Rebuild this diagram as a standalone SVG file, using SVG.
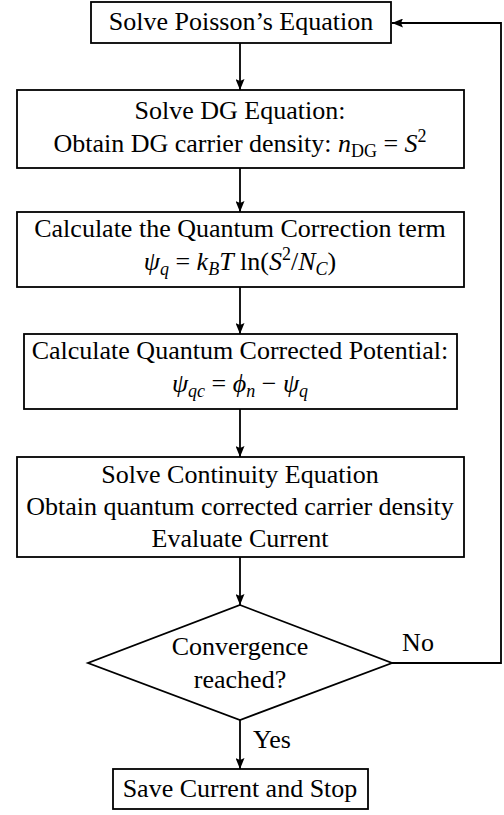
<svg xmlns="http://www.w3.org/2000/svg" width="504" height="815" viewBox="0 0 504 815">
<style>
text{font-family:"Liberation Serif","Times New Roman",serif;font-size:26px;fill:#000;text-anchor:middle}
.it{font-style:italic}
.sub{font-size:18px}
.box{fill:#fff;stroke:#000;stroke-width:1.8}
.ln{fill:none;stroke:#000;stroke-width:1.8}
</style>
<defs>
<marker id="ah" markerWidth="11" markerHeight="9" refX="11" refY="4.5" orient="auto" markerUnits="userSpaceOnUse">
<path d="M0,0 L11,4.5 L0,9 L2,4.5 Z" fill="#000"/>
</marker>
</defs>
<g id="connectors">
<line class="ln" x1="240" y1="43" x2="240" y2="90" marker-end="url(#ah)"/>
<line class="ln" x1="240" y1="168" x2="240" y2="212" marker-end="url(#ah)"/>
<line class="ln" x1="240" y1="287" x2="240" y2="334" marker-end="url(#ah)"/>
<line class="ln" x1="240" y1="409" x2="240" y2="457" marker-end="url(#ah)"/>
<line class="ln" x1="240" y1="557" x2="240" y2="605" marker-end="url(#ah)"/>
<line class="ln" x1="240" y1="720" x2="240" y2="769" marker-end="url(#ah)"/>
<polyline class="ln" points="392,663 501,663 501,23 392,23" marker-end="url(#ah)"/>
<text x="418" y="651">No</text>
<text x="272" y="748">Yes</text>
</g>
<g id="poisson">
<rect class="box" x="91" y="2" width="300" height="41"/>
<text x="241" y="30">Solve Poisson’s Equation</text>
</g>
<g id="dg">
<rect class="box" x="17" y="90" width="447" height="78"/>
<text x="240" y="119">Solve DG Equation:</text>
<text x="240" y="152">Obtain DG carrier density: <tspan class="it">n</tspan><tspan class="sub" dy="5">DG</tspan><tspan dy="-5"> = </tspan><tspan class="it">S</tspan><tspan class="sub" dy="-10">2</tspan></text>
</g>
<g id="qc">
<rect class="box" x="17" y="212" width="447" height="75"/>
<text x="240" y="237">Calculate the Quantum Correction term</text>
<text x="240" y="270"><tspan class="it">ψ</tspan><tspan class="sub it" dy="5">q</tspan><tspan dy="-5"> = </tspan><tspan class="it">k</tspan><tspan class="sub it" dy="5">B</tspan><tspan class="it" dy="-5">T</tspan><tspan> ln(</tspan><tspan class="it">S</tspan><tspan class="sub" dy="-10">2</tspan><tspan dy="10">/</tspan><tspan class="it">N</tspan><tspan class="sub it" dy="5">C</tspan><tspan dy="-5">)</tspan></text>
</g>
<g id="potential">
<rect class="box" x="24" y="334" width="433" height="75"/>
<text x="240" y="359">Calculate Quantum Corrected Potential:</text>
<text x="240" y="392"><tspan class="it">ψ</tspan><tspan class="sub it" dy="5">qc</tspan><tspan dy="-5"> = </tspan><tspan class="it">ϕ</tspan><tspan class="sub it" dy="5">n</tspan><tspan dy="-5"> − </tspan><tspan class="it">ψ</tspan><tspan class="sub it" dy="5">q</tspan></text>
</g>
<g id="continuity">
<rect class="box" x="17" y="457" width="447" height="100"/>
<text x="240" y="483">Solve Continuity Equation</text>
<text x="240" y="515">Obtain quantum corrected carrier density</text>
<text x="240" y="547">Evaluate Current</text>
</g>
<g id="decision">
<polygon class="box" points="240,605 392,663 240,720 88,663"/>
<text x="240" y="655">Convergence</text>
<text x="240" y="688">reached?</text>
</g>
<g id="save">
<rect class="box" x="113" y="769" width="255" height="40"/>
<text x="240" y="797">Save Current and Stop</text>
</g>
</svg>
